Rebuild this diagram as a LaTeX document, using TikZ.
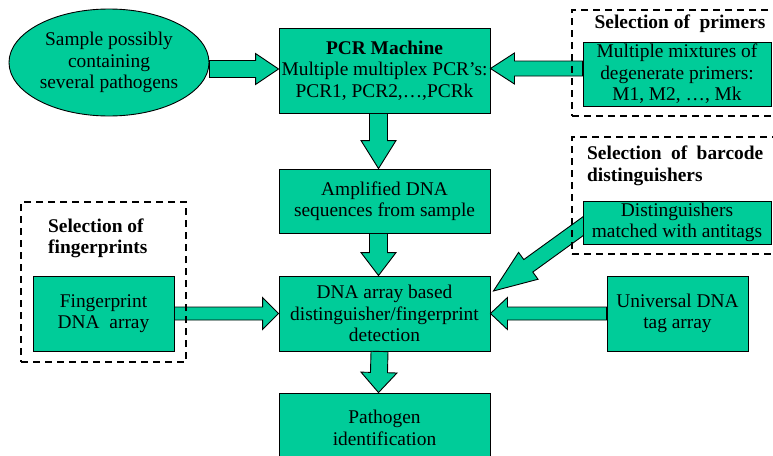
\documentclass[tikz,border=0pt]{standalone}
\usepackage{fontspec}
\setmainfont{Liberation Serif}
\usetikzlibrary{calc,shapes.geometric}
\definecolor{grn}{RGB}{0,204,153}
\pgfdeclarelayer{behind}
\pgfsetlayers{behind,main}
\tikzset{
  txt/.style={font=\fontsize{19.4}{21.5}\selectfont, align=center, inner sep=0pt},
  gbox/.style={txt, draw=black, line width=0.9pt, fill=grn, rectangle},
  selbox/.style={draw=black, line width=1.1pt, dash pattern=on 7pt off 5pt, rectangle, inner sep=0pt},
  ttl/.style={font=\fontsize{19.4}{21.5}\selectfont\bfseries, inner sep=0pt},
  barrow/.style={draw=black, line width=0.9pt, fill=grn, line join=miter}
}
\newcommand\blockarrow[5]{% from #1 to #2, shaft half width #3, head half width #4, head length #5
  \coordinate (ba-h) at ($(#2)!#5!(#1)$);
  \draw[barrow] ($(#1)!#3!90:(#2)$) -- ($(ba-h)!#3!90:(#2)$) -- ($(ba-h)!#4!90:(#2)$) -- (#2)
     -- ($(ba-h)!#4!-90:(#2)$) -- ($(ba-h)!#3!-90:(#2)$) -- ($(#1)!#3!-90:(#2)$) -- cycle;}
\begin{document}
\begin{tikzpicture}[x=1pt,y=-1pt]
\useasboundingbox (0,0) rectangle (773,455);
\clip (0,0) rectangle (773,455);
% main nodes
\node[txt, ellipse, draw=black, line width=0.9pt, fill=grn, minimum width=200pt, minimum height=107pt] (samp) at (109,62.5)
  {Sample possibly\\containing\\several pathogens};
\node[gbox, minimum width=211pt, minimum height=85pt] (pcr) at (384.5,70.5)
  {\textbf{PCR Machine}\\Multiple multiplex PCR’s:\\PCR1, PCR2,\dots,PCRk};
\node[gbox, minimum width=188pt, minimum height=64pt] (prim) at (677,74)
  {Multiple mixtures of\\degenerate primers:\\M1, M2, \dots, Mk};
\node[gbox, minimum width=211pt, minimum height=64pt] (amp) at (384.5,201)
  {Amplified DNA\\sequences from sample};
\node[gbox, minimum width=188pt, minimum height=43pt] (dist) at (677,222.5)
  {Distinguishers\\matched with antitags};
\node[gbox, minimum width=211pt, minimum height=75pt] (dna) at (384.5,313.5)
  {DNA array based\\distinguisher/fingerprint\\detection};
\node[gbox, minimum width=141pt, minimum height=75pt] (finger) at (103.5,313.5)
  {Fingerprint\\DNA\ \ array};
\node[gbox, minimum width=141pt, minimum height=75pt] (univ) at (677.5,313.5)
  {Universal DNA\\tag array};
\node[gbox, minimum width=211pt, minimum height=70pt] (path) at (384.5,428)
  {Pathogen\\identification};
% connector end points
\coordinate (a1s) at (samp.east |- 0,69);
\coordinate (a1e) at (pcr.west |- 0,69);
\coordinate (a2s) at (prim.west |- 0,68.5);
\coordinate (a2e) at (pcr.east |- 0,68.5);
\coordinate (a3s) at ($(pcr.south)+(-6,0)$);
\coordinate (a3e) at ($(amp.north)+(-6,0)$);
\coordinate (a4s) at ($(amp.south)+(-6,0)$);
\coordinate (a4e) at ($(dna.north)+(-6,0)$);
\coordinate (a5s) at ($(dna.south)+(-5,0)$);
\coordinate (a5e) at ($(path.north)+(-6,0)$);
\coordinate (a8s) at ($(dist.west)+(12,-4.6)$);
\coordinate (a8e) at ($(dna.east)+(3,-22.5)$);
% block arrows
\blockarrow{a1s}{a1e}{8.5pt}{15.5pt}{23pt}
\blockarrow{a2s}{a2e}{7.5pt}{15.5pt}{24pt}
\blockarrow{a3s}{a3e}{9pt}{17.5pt}{28pt}
\blockarrow{a4s}{a4e}{9pt}{17.5pt}{23pt}
\blockarrow{a5s}{a5e}{8.5pt}{18pt}{20pt}
\blockarrow{finger.east}{dna.west}{6.5pt}{16pt}{16pt}
\blockarrow{univ.west}{dna.east}{6.5pt}{16pt}{17pt}
\begin{pgfonlayer}{behind}
\blockarrow{a8s}{a8e}{7.7pt}{16.6pt}{43pt}
\end{pgfonlayer}
% selection frames
\node[selbox, minimum width=213pt, minimum height=106pt] (primsel) at (678.5,63) {};
\node[selbox, minimum width=213pt, minimum height=117pt] (barsel) at (678.5,195.5) {};
\node[selbox, minimum width=165pt, minimum height=160pt] (fingsel) at (103.5,282) {};
\node[ttl] (primttl) at (680,24) {Selection of\ \ primers};
\node[ttl, align=left, anchor=west] (barttl) at (587,166)
  {\makebox[176pt][s]{Selection of barcode}\\distinguishers};
\node[ttl, align=left, anchor=west] (fingttl) at (48,238.5)
  {Selection of\\fingerprints};
\end{tikzpicture}
\end{document}
